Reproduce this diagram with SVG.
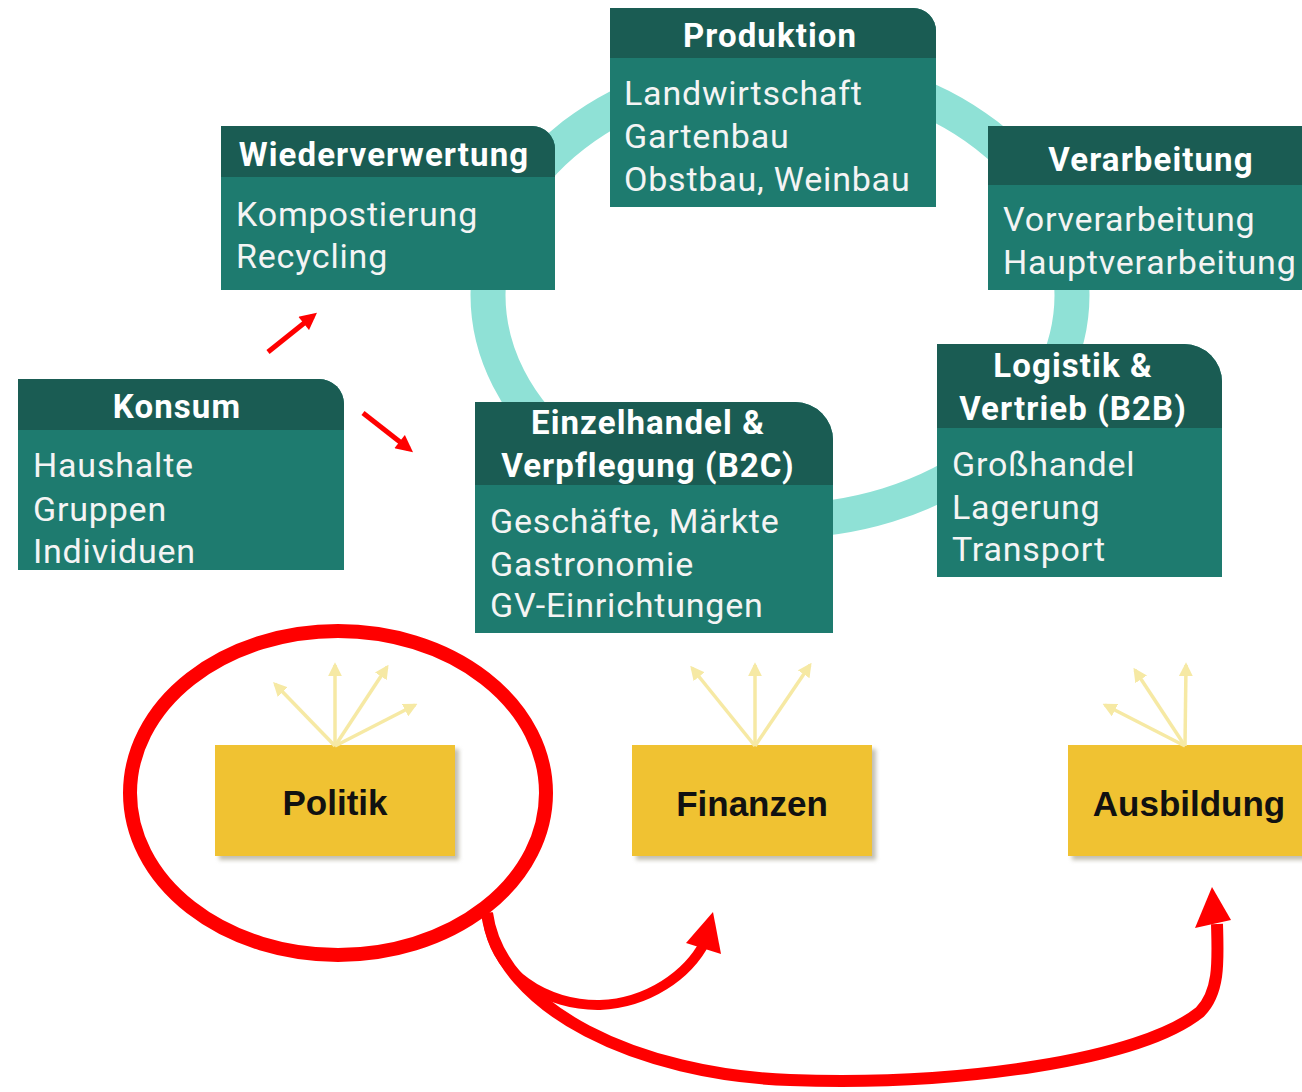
<svg xmlns="http://www.w3.org/2000/svg" width="1302" height="1092" viewBox="0 0 1302 1092">
<defs>
<style>
.hd{fill:#1a5c53}
.bd{fill:#1e7b6f}
.ht{font-family:Roboto,"Liberation Sans",sans-serif;font-weight:bold;font-size:33px;letter-spacing:1.1px;fill:#ffffff;text-anchor:middle}
.bt{font-family:Roboto,"Liberation Sans",sans-serif;font-size:34px;letter-spacing:0.8px;fill:#f4f4f4}
.yb{fill:#f0c232}
.ys{fill:#9a9580;opacity:0.6}
.yt{font-family:"Liberation Sans",Arial,sans-serif;font-weight:bold;font-size:35px;fill:#111111;text-anchor:middle}
.ya{stroke:#f6e9a4;stroke-width:3.5;fill:none;marker-end:url(#ym)}
.ra{stroke:#ff0000;stroke-width:5;fill:none;marker-end:url(#rm)}
.rc{stroke:#ff0000;fill:none;stroke-linecap:butt}
</style>
<marker id="ym" viewBox="0 0 10 10" refX="8" refY="5" markerWidth="4" markerHeight="4" orient="auto" markerUnits="strokeWidth">
<path d="M0,0 L10,5 L0,10 Z" fill="#f6e9a4"/>
</marker>
<marker id="rm" viewBox="0 0 10 10" refX="7" refY="5" markerWidth="3.6" markerHeight="3.4" orient="auto" markerUnits="strokeWidth">
<path d="M0,0 L10,5 L0,10 Z" fill="#ff0000"/>
</marker>
<filter id="sh" x="-10%" y="-10%" width="130%" height="130%">
<feGaussianBlur stdDeviation="2"/>
</filter>
</defs>
<rect width="1302" height="1092" fill="#ffffff"/>

<g id="ring">
<ellipse cx="780" cy="295" rx="292" ry="226" fill="none" stroke="#8fe1d6" stroke-width="35"/>
</g>

<g id="produktion">
<path class="bd" d="M610,8 H913 A23,23 0 0 1 936,31 V207 H610 Z"/>
<path class="hd" d="M610,8 H913 A23,23 0 0 1 936,31 V58 H610 Z"/>
<text class="ht" x="770" y="47">Produktion</text>
<text class="bt" x="624" y="105">Landwirtschaft</text>
<text class="bt" x="624" y="148">Gartenbau</text>
<text class="bt" x="624" y="191">Obstbau, Weinbau</text>
</g>

<g id="wiederverwertung">
<path class="bd" d="M221,126 H532 A23,23 0 0 1 555,149 V290 H221 Z"/>
<path class="hd" d="M221,126 H532 A23,23 0 0 1 555,149 V177 H221 Z"/>
<text class="ht" x="384" y="166">Wiederverwertung</text>
<text class="bt" x="236" y="226">Kompostierung</text>
<text class="bt" x="236" y="268">Recycling</text>
</g>

<g id="verarbeitung">
<path class="bd" d="M988,126 H1302 V290 H988 Z"/>
<path class="hd" d="M988,126 H1302 V185 H988 Z"/>
<text class="ht" x="1151" y="171">Verarbeitung</text>
<text class="bt" x="1003" y="231">Vorverarbeitung</text>
<text class="bt" x="1003" y="274">Hauptverarbeitung</text>
</g>

<g id="logistik">
<path class="bd" d="M937,344 H1184 A38,38 0 0 1 1222,382 V577 H937 Z"/>
<path class="hd" d="M937,344 H1184 A38,38 0 0 1 1222,382 V428 H937 Z"/>
<text class="ht" x="1073" y="377">Logistik &amp;</text>
<text class="ht" x="1073" y="420">Vertrieb (B2B)</text>
<text class="bt" x="952" y="476">Großhandel</text>
<text class="bt" x="952" y="519">Lagerung</text>
<text class="bt" x="952" y="561">Transport</text>
</g>

<g id="einzelhandel">
<path class="bd" d="M475,402 H795 A38,38 0 0 1 833,440 V633 H475 Z"/>
<path class="hd" d="M475,402 H795 A38,38 0 0 1 833,440 V485 H475 Z"/>
<text class="ht" x="648" y="434">Einzelhandel &amp;</text>
<text class="ht" x="648" y="477">Verpflegung (B2C)</text>
<text class="bt" x="490" y="533">Geschäfte, Märkte</text>
<text class="bt" x="490" y="576">Gastronomie</text>
<text class="bt" x="490" y="617">GV-Einrichtungen</text>
</g>

<g id="konsum">
<path class="bd" d="M18,379 H319 A25,25 0 0 1 344,404 V570 H18 Z"/>
<path class="hd" d="M18,379 H319 A25,25 0 0 1 344,404 V430 H18 Z"/>
<text class="ht" x="177" y="418">Konsum</text>
<text class="bt" x="33" y="477">Haushalte</text>
<text class="bt" x="33" y="521">Gruppen</text>
<text class="bt" x="33" y="563">Individuen</text>
</g>

<g id="politik">
<rect class="ys" x="219" y="749" width="240" height="111" filter="url(#sh)"/>
<rect class="yb" x="215" y="745" width="240" height="111"/>
<text class="yt" x="335" y="815">Politik</text>
</g>

<g id="finanzen">
<rect class="ys" x="636" y="749" width="240" height="111" filter="url(#sh)"/>
<rect class="yb" x="632" y="745" width="240" height="111"/>
<text class="yt" x="752" y="816">Finanzen</text>
</g>

<g id="ausbildung">
<rect class="ys" x="1072" y="749" width="250" height="111" filter="url(#sh)"/>
<rect class="yb" x="1068" y="745" width="250" height="111"/>
<text class="yt" x="1189" y="816">Ausbildung</text>
</g>

<g id="connectors">
<line class="ra" x1="268" y1="352" x2="313" y2="316"/>
<line class="ra" x1="363" y1="413" x2="409" y2="449"/>

<line class="ya" x1="335" y1="746" x2="275" y2="684"/>
<line class="ya" x1="335" y1="746" x2="335" y2="665"/>
<line class="ya" x1="335" y1="746" x2="387" y2="667"/>
<line class="ya" x1="335" y1="746" x2="415" y2="705"/>

<line class="ya" x1="755" y1="746" x2="692" y2="668"/>
<line class="ya" x1="755" y1="746" x2="755" y2="665"/>
<line class="ya" x1="755" y1="746" x2="810" y2="665"/>

<line class="ya" x1="1185" y1="746" x2="1135" y2="670"/>
<line class="ya" x1="1185" y1="746" x2="1186" y2="665"/>
<line class="ya" x1="1185" y1="746" x2="1105" y2="705"/>

<ellipse class="rc" cx="338" cy="793" rx="208" ry="162" stroke-width="14"/>
<path class="rc" stroke-width="10" d="M487,913 C492,975 548,1006 600,1005 C648,1003 688,975 705,942"/>
<polygon fill="#ff0000" points="713,912 686,943 721,954"/>
<path class="rc" stroke-width="12" d="M487,913 C500,1010 640,1075 790,1080 C960,1086 1140,1060 1200,1012 C1220,992 1218,960 1217,924"/>
<polygon fill="#ff0000" points="1212,887 1195,928 1231,920"/>
</g>
</svg>
